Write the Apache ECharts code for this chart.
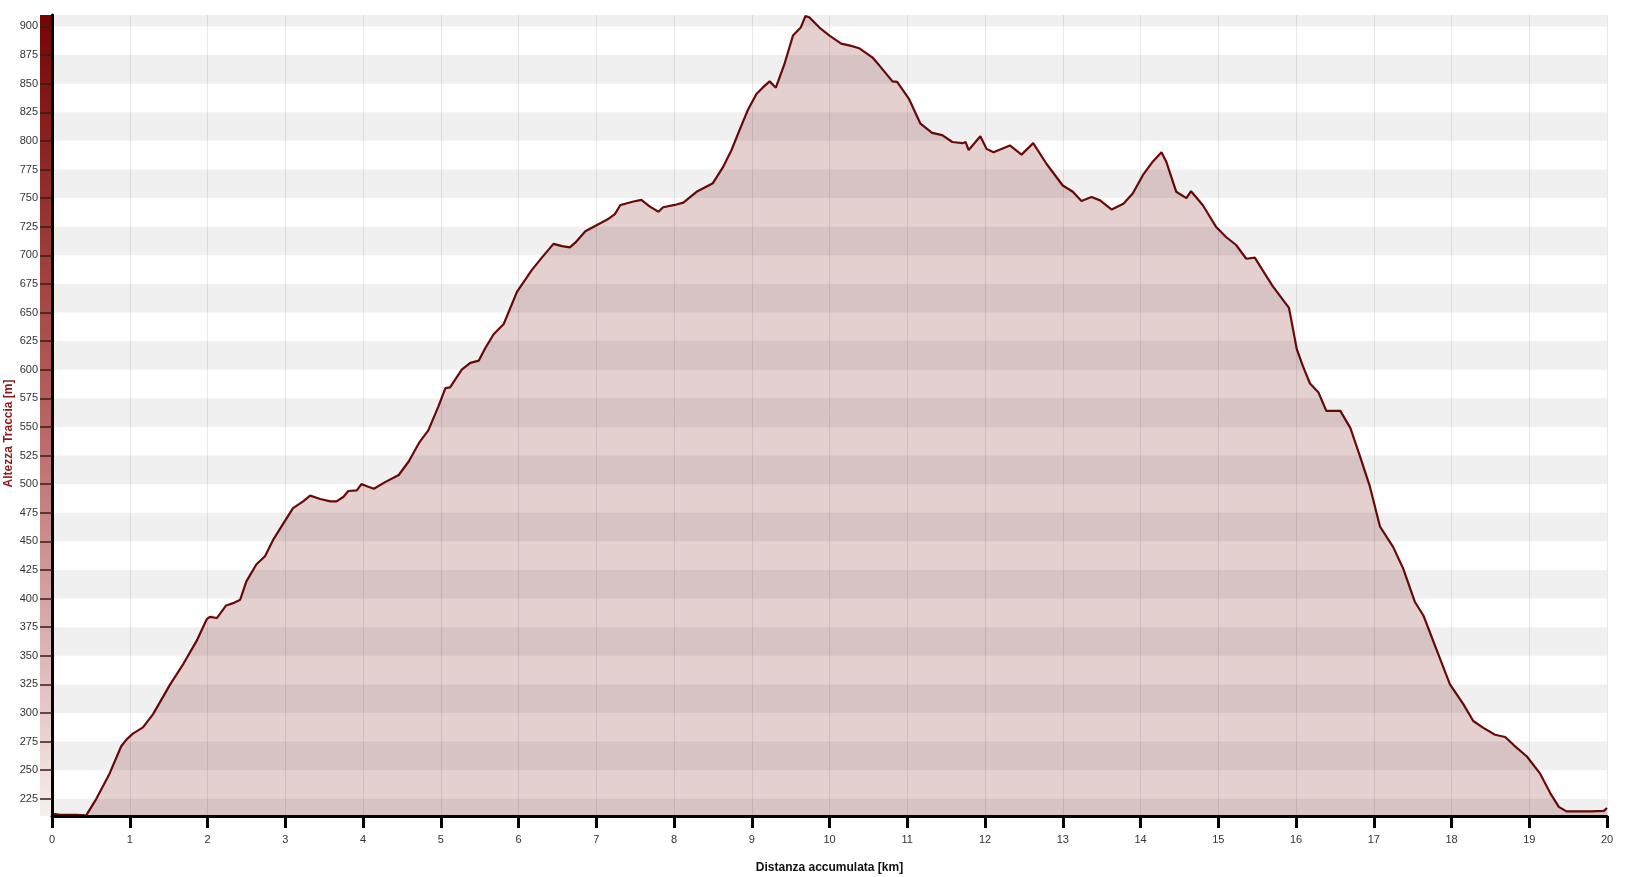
<!DOCTYPE html>
<html><head><meta charset="utf-8">
<script src="https://cdn.jsdelivr.net/npm/echarts@6/dist/echarts.min.js"></script>
<style>html,body{margin:0;padding:0;background:#fff}#c{width:1638px;height:877px}</style>
</head><body><div id="c"></div>
<script>
// Distance along the track [km]
const distKm = [0, 0.10, 0.31, 0.44, 0.57, 0.74, 0.89, 0.96, 1.04, 1.17, 1.30, 1.52, 1.69, 1.86, 1.99, 2.03, 2.12, 2.24, 2.33, 2.42,
  2.50, 2.63, 2.74, 2.85, 2.97, 3.10, 3.23, 3.32, 3.45, 3.58, 3.66, 3.75, 3.81, 3.92, 3.98, 4.06, 4.14, 4.29, 4.46, 4.59,
  4.72, 4.84, 4.97, 5.06, 5.12, 5.27, 5.38, 5.49, 5.57, 5.68, 5.81, 5.98, 6.17, 6.30, 6.45, 6.56, 6.66, 6.73, 6.86, 7.01,
  7.16, 7.24, 7.31, 7.37, 7.48, 7.58, 7.69, 7.80, 7.86, 8.01, 8.12, 8.29, 8.50, 8.63, 8.74, 8.84, 8.95, 9.06, 9.14, 9.23,
  9.31, 9.42, 9.53, 9.63, 9.69, 9.74, 9.87, 10.00, 10.15, 10.28, 10.38, 10.55, 10.64, 10.81, 10.87, 11.02, 11.17, 11.32, 11.45, 11.58,
  11.71, 11.75, 11.79, 11.94, 12.02, 12.11, 12.32, 12.47, 12.62, 12.79, 13.00, 13.13, 13.24, 13.37, 13.48, 13.63, 13.78, 13.90, 14.03, 14.16,
  14.27, 14.33, 14.46, 14.59, 14.65, 14.80, 14.97, 15.10, 15.23, 15.36, 15.47, 15.57, 15.70, 15.91, 16.01, 16.09, 16.18, 16.29, 16.39, 16.57,
  16.70, 16.82, 16.95, 17.08, 17.25, 17.38, 17.53, 17.64, 17.81, 17.98, 18.15, 18.28, 18.41, 18.56, 18.69, 18.80, 18.97, 19.14, 19.27, 19.38,
  19.48, 19.79, 19.96, 20.00];
// Elevation [m]
const elevM = [212, 211, 211, 210.5, 225, 247, 271, 277, 282, 287.5, 299, 325, 343, 363, 382, 384, 383, 394, 396, 399,
  415, 430, 437, 452, 465, 479, 485, 490, 487, 485, 485, 489, 494, 494.5, 500, 498, 496, 502, 508, 520,
  536, 547, 568, 584, 584.5, 600, 606, 608, 618.5, 631, 640, 668, 687, 698, 710, 708, 707, 711, 721, 726.5,
  732, 736, 744, 745, 747, 748.5, 742.5, 738, 742, 744, 746, 755.5, 763, 777, 792, 809, 827, 841, 846.5, 852,
  846.5, 867, 892, 899, 909, 908, 899, 892, 885, 883, 881, 873, 866, 852, 851.5, 837, 815, 807, 805, 799,
  798, 799, 792, 804, 793, 790, 796, 788, 798, 780, 761, 755.5, 747.5, 751, 748, 740, 745, 754, 770, 782,
  790, 782, 755.5, 750, 756, 744, 725, 716, 709, 697, 698, 687, 673, 654, 618, 603, 588, 580, 564, 564,
  549, 525, 498, 463, 445, 426, 397, 385, 355, 325, 308, 293, 287, 281, 279, 272, 262, 247, 230, 218,
  214, 214, 214.5, 217];
// Y tick labels
const yTicks = [225, 250, 275, 300, 325, 350, 375, 400, 425, 450, 475, 500, 525, 550, 575, 600, 625, 650, 675, 700,
  725, 750, 775, 800, 825, 850, 875, 900];
const yMin = 210, yMax = 910;
const xMin = 0, xMax = 20;

const FONT = '"Liberation Sans", Arial, sans-serif';
const points = distKm.map((d, i) => [d, elevM[i]]);
const edges = [yMin].concat(yTicks, [yMax]);
const bands = [];
for (let i = 0; i < edges.length - 1; i += 2) bands.push([{ yAxis: edges[i] }, { yAxis: edges[i + 1] }]);

const chart = echarts.init(document.getElementById('c'), null, { renderer: 'canvas' });
chart.setOption({
  animation: false,
  backgroundColor: '#ffffff',
  grid: { left: 52, right: 31, top: 15, bottom: 61, containLabel: false, outerBoundsMode: 'none' },
  graphic: [{
    type: 'rect', left: 40, top: 15, z: 1,
    shape: { width: 12, height: 801 },
    style: { fill: new echarts.graphic.LinearGradient(0, 0, 0, 1, [
      { offset: 0, color: '#760404' }, { offset: 0.5, color: '#b76262' }, { offset: 1, color: '#f8eeee' }]) }
  }],
  xAxis: {
    type: 'value', min: xMin, max: xMax, interval: 1, z: 4,
    axisLine: { show: true, onZero: false, lineStyle: { color: '#000', width: 3 } },
    axisTick: { show: true, length: 12, lineStyle: { color: '#000', width: 3 } },
    axisLabel: { color: '#333', fontSize: 11, fontFamily: FONT, margin: 18 },
    splitLine: { show: true, lineStyle: { color: 'rgba(0,0,0,0.09)', width: 1 } },
    name: 'Distanza accumulata [km]', nameLocation: 'middle', nameGap: 46, nameMoveOverlap: false,
    nameTextStyle: { color: '#111', fontWeight: 'bold', fontSize: 12, fontFamily: FONT }
  },
  yAxis: {
    type: 'value', min: yMin, max: yMax, z: 4,
    axisLine: { show: true, lineStyle: { color: '#000', width: 3 } },
    axisTick: { show: true, length: 12, customValues: yTicks, lineStyle: { color: '#3a1a1a', width: 1.5 } },
    axisLabel: { customValues: yTicks, color: '#333', fontSize: 11, fontFamily: FONT, margin: 14 },
    splitLine: { show: false }, splitArea: { show: false },
    name: 'Altezza Traccia [m]', nameLocation: 'middle', nameGap: 37, nameRotate: 90, nameMoveOverlap: false,
    nameTextStyle: { color: '#8b1a1a', fontWeight: 'bold', fontSize: 12, fontFamily: FONT, padding: [0, 36, 0, 0] }
  },
  series: [
    {
      type: 'line', data: points, showSymbol: false, z: 2,
      lineStyle: { color: '#6b0a0a', width: 2.2 },
      areaStyle: { color: '#e5d0d0', opacity: 1 }
    },
    {
      type: 'line', data: [], z: 3, silent: true,
      markArea: { silent: true, z: 3, itemStyle: { color: 'rgba(0,0,0,0.06)', borderWidth: 0 }, data: bands }
    }
  ]
});
</script></body></html>
